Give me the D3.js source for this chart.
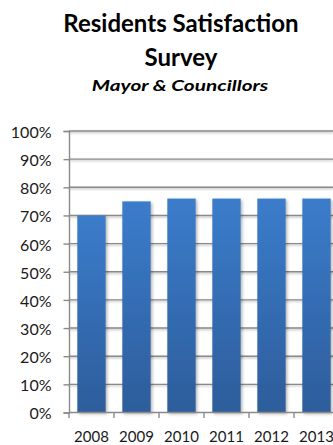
<!DOCTYPE html>
<html><head><meta charset="utf-8">
<script src="https://cdn.jsdelivr.net/npm/d3@7"></script>
<style>body{margin:0;background:#fff;overflow:hidden}svg{display:block}</style>
</head><body>
<script>
const years = ["2008","2009","2010","2011","2012","2013"];
const satisfaction = [0.70,0.75,0.76,0.76,0.76,0.76];
const yTicks = [0,0.1,0.2,0.3,0.4,0.5,0.6,0.7,0.8,0.9,1.0];
const titleLines = ["Residents Satisfaction","Survey"];
const subtitle = "Mayor & Councillors";

const W=333,H=445;
const svg=d3.select("body").append("svg").attr("width",W).attr("height",H);
const defs=svg.append("defs");
const g=defs.append("linearGradient").attr("id","bg").attr("x1",0).attr("y1",0).attr("x2",0).attr("y2",1);
g.append("stop").attr("offset","0%").attr("stop-color","#3b7ccb");
g.append("stop").attr("offset","100%").attr("stop-color","#2d5d9b");
const f=defs.append("filter").attr("id","sh").attr("x","-20%").attr("y","-20%").attr("width","150%").attr("height","150%");
f.append("feDropShadow").attr("dx",1.5).attr("dy",1.5).attr("stdDeviation",1.5).attr("flood-color","#000").attr("flood-opacity",0.3);
const f2=defs.append("filter").attr("id","lsh").attr("filterUnits","userSpaceOnUse")
  .attr("x",0).attr("y",0).attr("width",W).attr("height",H);
f2.append("feDropShadow").attr("dx",0).attr("dy",1.2).attr("stdDeviation",0.8).attr("flood-color","#000").attr("flood-opacity",0.3);

const font="Lato, 'Open Sans', sans-serif";
svg.append("text").attr("x",181).attr("y",32).attr("text-anchor","middle")
  .style("font-family",font).style("font-weight","bold").style("font-size","24px").text(titleLines[0]);
svg.append("text").attr("x",181).attr("y",66).attr("text-anchor","middle")
  .style("font-family",font).style("font-weight","bold").style("font-size","24px").text(titleLines[1]);
svg.append("text").attr("transform","translate(180,91) scale(1.3,1)").attr("text-anchor","middle")
  .style("font-family",font).style("font-weight","bold").style("font-style","italic").style("font-size","16px").text(subtitle);

const x0=69, step=45;
const x=d3.scaleBand().domain(years).range([x0,x0+step*years.length]).paddingInner(0.37).paddingOuter(0.185);
const y=d3.scaleLinear().domain([0,1]).range([412.5,131]);

const grid=svg.append("g").attr("filter","url(#lsh)");
grid.selectAll("line").data(yTicks.slice(1)).join("line")
  .attr("x1",x0).attr("x2",W).attr("y1",d=>y(d)).attr("y2",d=>y(d))
  .attr("stroke","#8a8a8a").attr("stroke-width",1.4);

svg.append("g").selectAll("rect").data(satisfaction).join("rect")
  .attr("x",(d,i)=>x(years[i])).attr("width",x.bandwidth())
  .attr("y",d=>y(d)).attr("height",d=>y(0)-y(d))
  .attr("fill","url(#bg)").attr("filter","url(#sh)");

const ya=svg.append("g").attr("transform",`translate(${x0},0)`)
  .call(d3.axisLeft(y).tickValues(yTicks).tickFormat(d3.format(".0%")).tickSize(5.5).tickPadding(12));
ya.select(".domain").attr("stroke","#8a8a8a").attr("stroke-width",1.4);
ya.selectAll(".tick line").attr("stroke","#8a8a8a").attr("stroke-width",1.4);
ya.selectAll("text").style("font-family",font).style("font-size","16px").attr("fill","#1a1a1a").attr("dy","0.4em");

const xa=svg.append("g").attr("transform",`translate(0,${y(0)})`)
  .call(d3.axisBottom(x).tickSize(5.5).tickPadding(13));
xa.select(".domain").remove();
xa.selectAll(".tick line").attr("transform",`translate(${-step/2},0)`).attr("stroke","#8a8a8a").attr("stroke-width",1.4);
svg.append("line").attr("x1",x0).attr("x2",W).attr("y1",y(0)).attr("y2",y(0)).attr("stroke","#8a8a8a").attr("stroke-width",1.4);
xa.selectAll("text").style("font-family",font).style("font-size","15px").attr("fill","#1a1a1a");
</script>
</body></html>
